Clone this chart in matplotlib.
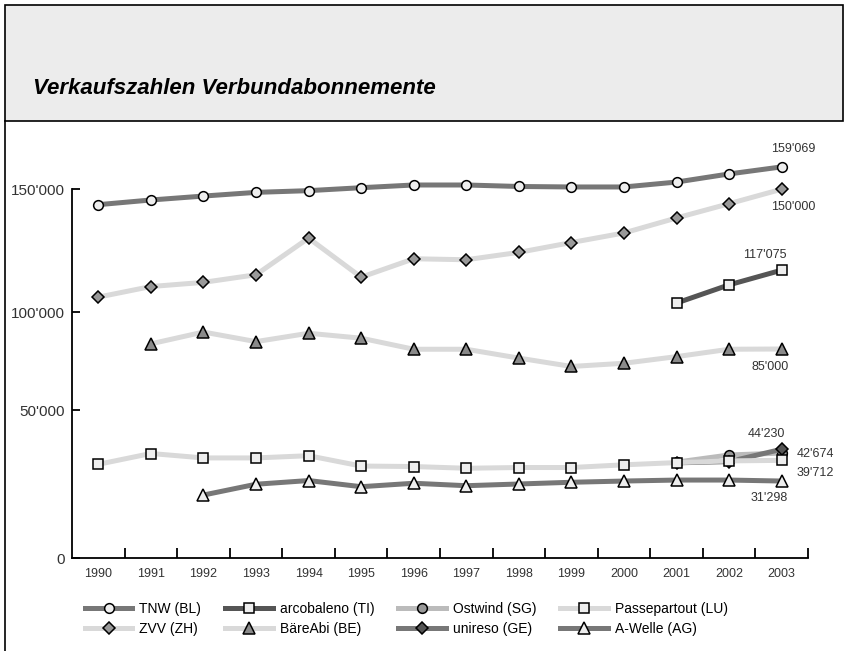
import matplotlib.pyplot as plt
from matplotlib.patches import Rectangle
from matplotlib.lines import Line2D

# Data
years = list(range(1990, 2004))

tnw = [143700, 145600, 147200, 148700, 149400, 150600, 151700, 151700,
       151100, 150900, 150900, 152900, 156200, 159069]
zvv = [106100, 110400, 112100, 115200, 130100, 114200, 121700, 121300,
       124300, 128300, 132200, 138300, 144100, 150000]
arcobaleno_years = [2001, 2002, 2003]
arcobaleno = [103700, 111100, 117075]
baereabi_years = list(range(1991, 2004))
baereabi = [87100, 91900, 88000, 91400, 89400, 84900, 84900, 81300,
            77900, 79200, 81900, 84900, 85000]
passepartout = [38100, 42500, 40700, 40700, 41600, 37400, 37200, 36500,
                36800, 36800, 37900, 38800, 39500, 39712]
awelle_years = list(range(1992, 2004))
awelle = [25600, 30000, 31500, 29000, 30400, 29400, 30100, 30800,
          31300, 31700, 31700, 31298]
ostwind_years = [2001, 2002, 2003]
ostwind = [39000, 41900, 42674]
unireso_years = [2001, 2002, 2003]
unireso = [38700, 39200, 44230]

ytick_pos = [0, 60000, 100000, 150000]
ytick_labels = ["0", "50'000", "100'000", "150'000"]

W, H = 847, 651
fig = plt.figure(figsize=(W / 100, H / 100), dpi=100)

# frame: grey title band and left border line
fig.patches.append(Rectangle((5 / W, 1 - 121 / H), 838 / W, 116 / H,
                             transform=fig.transFigure, facecolor='#ececec',
                             edgecolor='black', linewidth=1.2, zorder=0))
fig.lines.append(Line2D([5 / W, 5 / W], [0, 1 - 121 / H], transform=fig.transFigure,
                        color='black', linewidth=1.2))

fig.text(33 / W, 1 - 88 / H, "Verkaufszahlen Verbundabonnemente",
         family=['Liberation Sans Narrow', 'Liberation Sans', 'DejaVu Sans'],
         weight='bold', style='italic', fontsize=16, va='center', ha='left')

ax = fig.add_axes([72 / W, 93 / H, 736 / W, 418 / H])

lw = 3.6
mew = 1.1
series = [
    ("TNW (BL)", years, tnw, '#777777', 'o', '#eeeeee', 7),
    ("ZVV (ZH)", years, zvv, '#d9d9d9', 'D', '#999999', 6.3),
    ("arcobaleno (TI)", arcobaleno_years, arcobaleno, '#555555', 's', '#eeeeee', 6.5),
    ("BäreAbi (BE)", baereabi_years, baereabi, '#d9d9d9', '^', '#8a8a8a', 9),
    ("Ostwind (SG)", ostwind_years, ostwind, '#bbbbbb', 'o', '#999999', 7),
    ("unireso (GE)", unireso_years, unireso, '#777777', 'D', '#555555', 6.3),
    ("Passepartout (LU)", years, passepartout, '#d9d9d9', 's', '#eeeeee', 6.5),
    ("A-Welle (AG)", awelle_years, awelle, '#777777', '^', '#eeeeee', 9),
]

handles = {}
for name, xs, ys, lc, mk, mfc, ms in series:
    h, = ax.plot(xs, ys, color=lc, linewidth=lw, marker=mk, markerfacecolor=mfc,
                 markeredgecolor='black', markeredgewidth=mew, markersize=ms,
                 label=name, clip_on=False)
    handles[name] = h

ax.set_xlim(1989.5, 2003.5)
ax.set_ylim(0, 170000)

for s in ['top', 'right']:
    ax.spines[s].set_visible(False)
ax.spines['left'].set_bounds(0, 150000)
ax.spines['left'].set_linewidth(1.3)
ax.spines['bottom'].set_linewidth(1.3)

ax.set_xticks(years)
ax.set_xticklabels([str(y) for y in years])
ax.set_xticks([y + 0.5 for y in years], minor=True)
ax.tick_params(axis='x', which='major', length=0, pad=7, labelsize=9,
               labelcolor='#333333')
ax.tick_params(axis='x', which='minor', direction='in', length=7, width=1.3)
ax.set_yticks(ytick_pos)
ax.set_yticklabels(ytick_labels)
ax.tick_params(axis='y', direction='in', length=6, width=1.3, pad=5,
               labelsize=11, labelcolor='#333333')
for lab in ax.get_xticklabels() + ax.get_yticklabels():
    lab.set_family('Liberation Sans')

# end value labels
end_labels = [
    ("159'069", tnw[-1], (8.6, 13), 'center'),
    ("150'000", zvv[-1], (8.6, -13), 'center'),
    ("117'075", arcobaleno[-1], (-12, 11), 'center'),
    ("85'000", baereabi[-1], (-8, -13), 'center'),
    ("44'230", unireso[-1], (-11, 11), 'center'),
    ("42'674", ostwind[-1], (11, -1), 'left'),
    ("39'712", passepartout[-1], (11, -9), 'left'),
    ("31'298", awelle[-1], (-9, -12), 'center'),
]
for txt, val, off, ha in end_labels:
    ax.annotate(txt, (2003, val), xytext=off, textcoords='offset points',
                ha=ha, va='center', fontsize=9, color='#333333',
                family='Liberation Sans', annotation_clip=False)

order = ["TNW (BL)", "ZVV (ZH)", "arcobaleno (TI)", "BäreAbi (BE)",
         "Ostwind (SG)", "unireso (GE)", "Passepartout (LU)", "A-Welle (AG)"]
fig.legend([handles[n] for n in order], order, loc='upper left',
           bbox_to_anchor=(85 / W, 1 - 602 / H), ncol=4, frameon=False,
           borderpad=0, borderaxespad=0, handlelength=3.4, handletextpad=0.5,
           columnspacing=1.75, labelspacing=0.45, numpoints=1,
           prop={'family': 'Liberation Sans', 'size': 10})

fig.savefig('out.png', dpi=100)
